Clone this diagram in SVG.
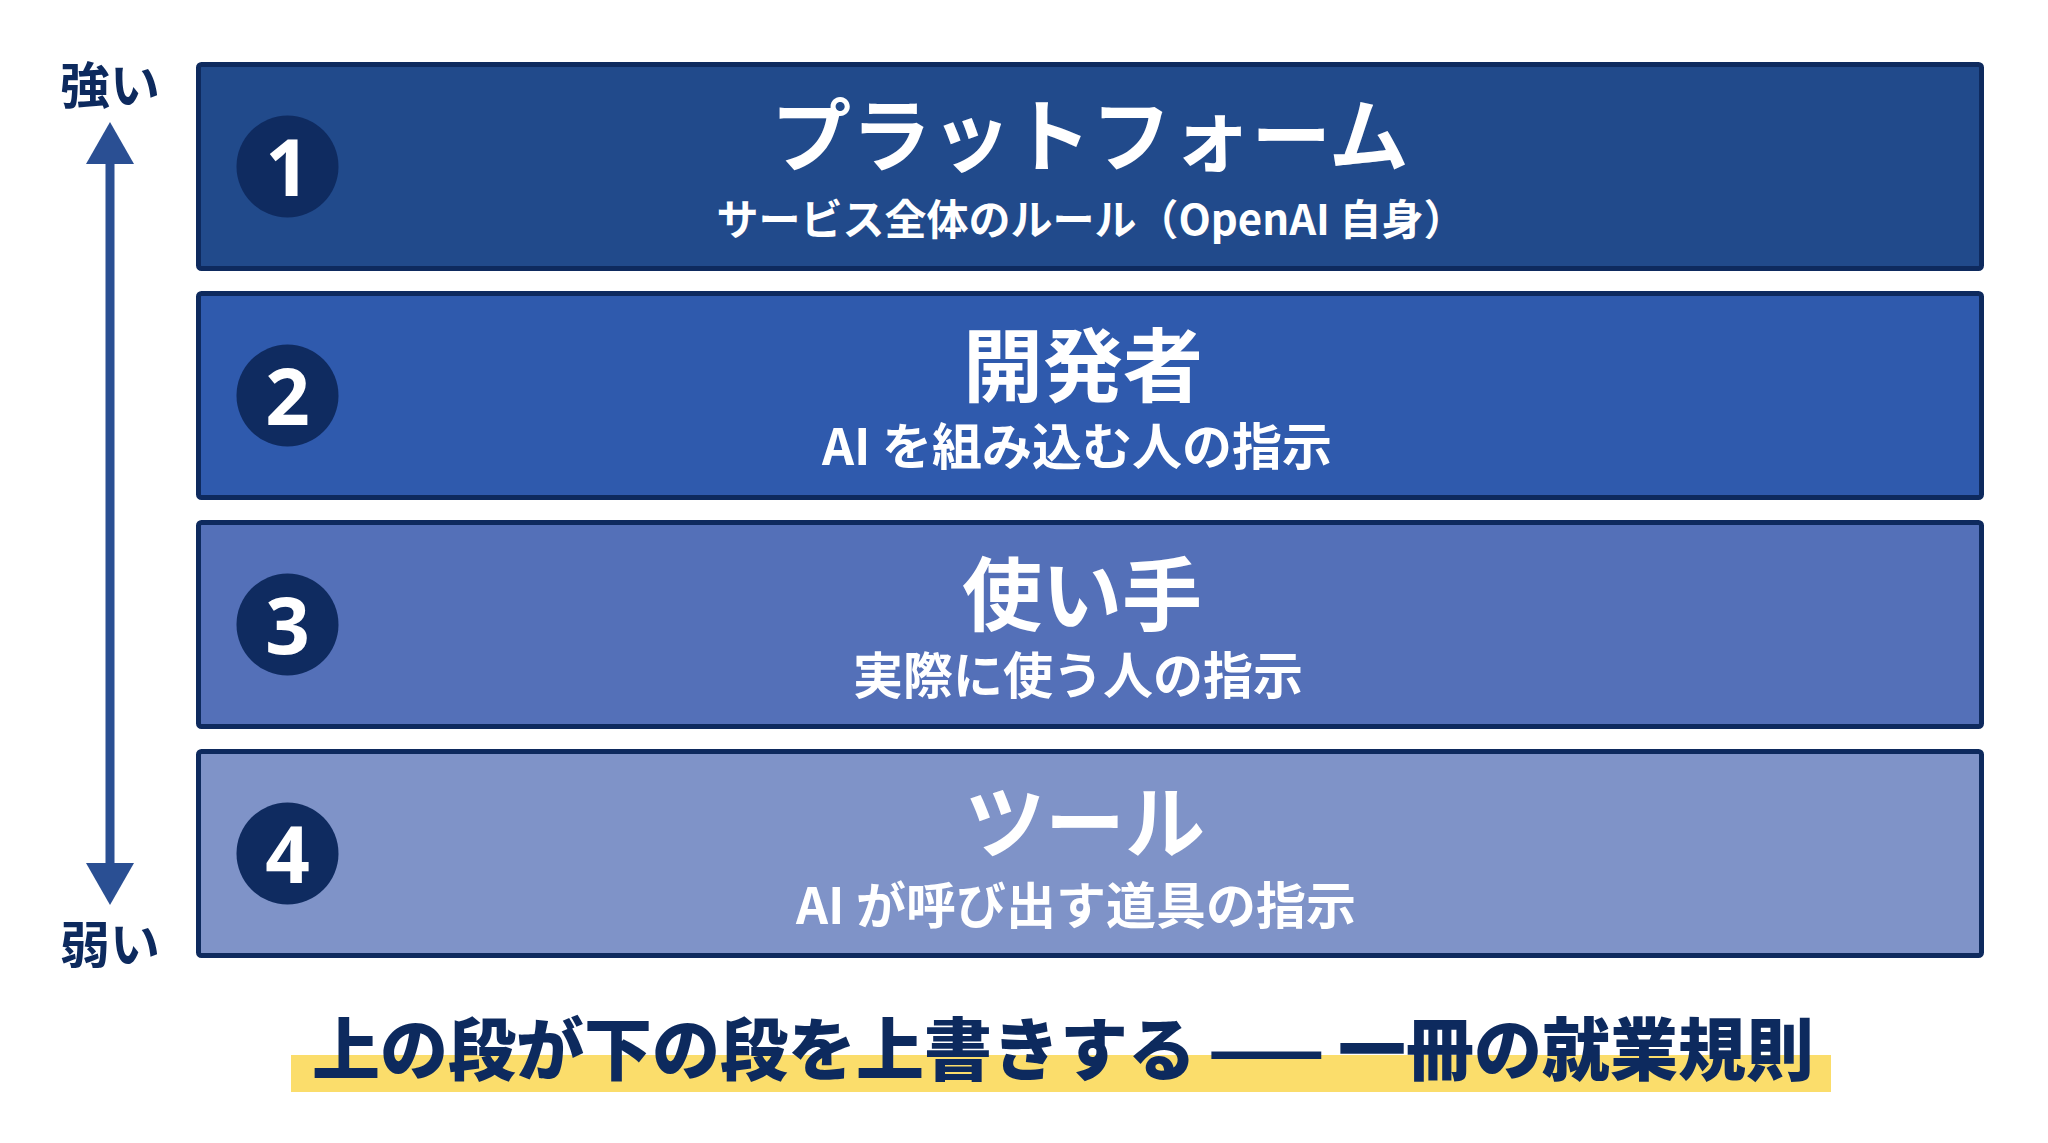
<svg xmlns="http://www.w3.org/2000/svg" width="2048" height="1143" viewBox="0 0 2048 1143">
<style>
.box{stroke:#0e2a5e;stroke-width:5}
.num-bg{fill:#0f2b60}
.num{fill:#ffffff;font-family:"Noto Sans","Open Sans","DejaVu Sans",sans-serif;font-weight:700;font-size:78px;text-anchor:middle}
.title{fill:#ffffff;font-family:"Noto Sans CJK JP","Noto Sans",sans-serif;font-weight:700;font-size:80px;text-anchor:middle}
.sub{fill:#ffffff;font-family:"Noto Sans CJK JP","Noto Sans",sans-serif;font-weight:700;font-size:50px;text-anchor:middle}
.side{fill:#0d2a5e;font-family:"Noto Sans CJK JP",sans-serif;font-weight:700;font-size:50px;text-anchor:middle}
.foot{fill:#0d2a5e;font-family:"Noto Sans CJK JP",sans-serif;font-weight:900;font-size:68px}
</style>
<defs>
<marker id="head" markerUnits="userSpaceOnUse" markerWidth="48" markerHeight="48" refX="2" refY="24" orient="auto-start-reverse" viewBox="0 0 48 48">
<path d="M0,0 L42,24 L0,48 Z" fill="#2a4f93"/>
</marker>
</defs>
<rect width="2048" height="1143" fill="#ffffff"/>
<g id="connectors">
<line x1="110" y1="162" x2="110" y2="865" stroke="#2a4f93" stroke-width="9" marker-start="url(#head)" marker-end="url(#head)"/>
</g>
<g id="label-strong"><text class="side" x="110" y="104">強い</text></g>
<g id="label-weak"><text class="side" x="110" y="963">弱い</text></g>
<g id="layer1">
<rect class="box" x="198.5" y="64.5" width="1783" height="204" rx="3" fill="#214a8b"/>
<circle class="num-bg" cx="287.5" cy="166.5" r="51"/>
<text class="num" x="287.5" y="195.5">1</text>
<text class="title" x="1090" y="165">プラットフォーム</text>
<text class="sub" x="1091" y="235" style="font-size:42px">サービス全体のルール（OpenAI 自身）</text>
</g>
<g id="layer2">
<rect class="box" x="198.5" y="293.5" width="1783" height="204" rx="3" fill="#2f5aad"/>
<circle class="num-bg" cx="287.5" cy="395.5" r="51"/>
<text class="num" x="287.5" y="424.5">2</text>
<text class="title" x="1083" y="395">開発者</text>
<text class="sub" x="1077" y="465">AI を組み込む人の指示</text>
</g>
<g id="layer3">
<rect class="box" x="198.5" y="522.5" width="1783" height="204" rx="3" fill="#5470b8"/>
<circle class="num-bg" cx="287.5" cy="624.5" r="51"/>
<text class="num" x="287.5" y="653.5">3</text>
<text class="title" x="1082" y="624">使い手</text>
<text class="sub" x="1078" y="694">実際に使う人の指示</text>
</g>
<g id="layer4">
<rect class="box" x="198.5" y="751.5" width="1783" height="204" rx="3" fill="#7f93c8"/>
<circle class="num-bg" cx="287.5" cy="853.5" r="51"/>
<text class="num" x="287.5" y="882.5">4</text>
<text class="title" x="1085" y="852">ツール</text>
<text class="sub" x="1076" y="924">AI が呼び出す道具の指示</text>
</g>
<g id="footer">
<rect x="291" y="1055" width="1540" height="37" fill="#fbdd6b"/>
<text class="foot" y="1075"><tspan x="312">上の段が下の段を上書きする</tspan><tspan x="1208">——</tspan><tspan x="1338">一冊の就業規則</tspan></text>
</g>
</svg>
